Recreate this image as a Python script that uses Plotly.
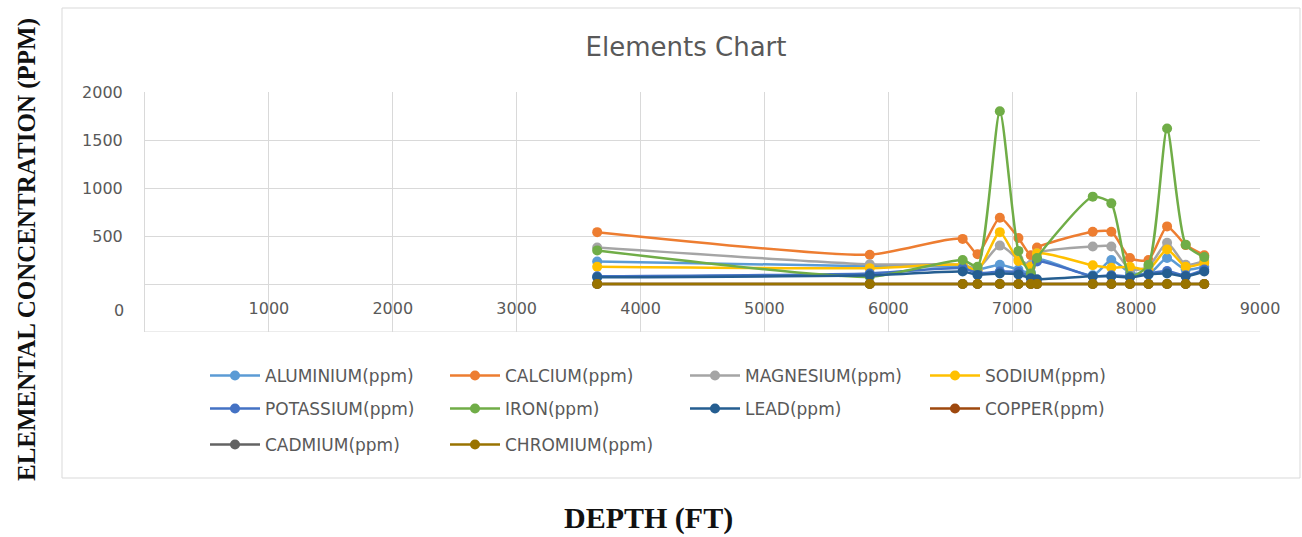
import plotly.graph_objects as go

# ---------------- data ----------------
depth = [3650, 5850, 6600, 6720, 6900, 7050, 7150, 7200, 7650, 7800, 7950, 8100, 8250, 8400, 8550]

aluminium = [235, 185, 180, 150, 200, 150, 120, 260, 90, 250, 120, 100, 270, 150, 180]
calcium   = [540, 305, 470, 310, 690, 480, 300, 380, 545, 545, 270, 250, 600, 405, 300]
magnesium = [380, 205, 200, 160, 400, 260, 200, 320, 390, 390, 150, 180, 430, 200, 240]
sodium    = [180, 165, 200, 140, 540, 240, 180, 320, 195, 170, 180, 150, 360, 180, 220]
potassium = [80, 110, 165, 115, 130, 125, 90, 235, 80, 90, 80, 110, 135, 90, 150]
iron      = [350, 75, 250, 180, 1800, 345, 110, 270, 910, 840, 75, 200, 1620, 410, 280]
lead      = [70, 90, 130, 95, 110, 100, 60, 50, 80, 80, 70, 100, 110, 80, 130]
copper    = [0, 0, 0, 0, 0, 0, 0, 0, 0, 0, 0, 0, 0, 0, 0]
cadmium   = [0, 0, 0, 0, 0, 0, 0, 0, 0, 0, 0, 0, 0, 0, 0]
chromium  = [0, 0, 0, 0, 0, 0, 0, 0, 0, 0, 0, 0, 0, 0, 0]

series_names = ["ALUMINIUM(ppm)", "CALCIUM(ppm)", "MAGNESIUM(ppm)", "SODIUM(ppm)",
                "POTASSIUM(ppm)", "IRON(ppm)", "LEAD(ppm)", "COPPER(ppm)",
                "CADMIUM(ppm)", "CHROMIUM(ppm)"]
series_values = [aluminium, calcium, magnesium, sodium, potassium, iron, lead,
                 copper, cadmium, chromium]
series_colors = ["#5B9BD5", "#ED7D31", "#A5A5A5", "#FFC000", "#4472C4", "#70AD47",
                 "#255E91", "#9E480E", "#636363", "#997300"]
legend_rows = ["legend", "legend", "legend", "legend",
               "legend2", "legend2", "legend2", "legend2",
               "legend3", "legend3"]

x_ticks = [1000, 2000, 3000, 4000, 5000, 6000, 7000, 8000, 9000]
y_ticks = [0, 500, 1000, 1500, 2000]
y_ticktext = ["", "500", "1000", "1500", "2000"]

# ---------------- layout geometry (pixels) ----------------
W, H = 1302, 537
ML, MR, MT, MB = 145, 42, 92, 205
PW = W - ML - MR
PH = H - MT - MB


def xp(px):
    return (px - ML) / PW


def yp(py):
    return (H - MB - py) / PH


GRID = "#D9D9D9"
TXT = "#595959"

fig = go.Figure()
for name, vals, col, lg in zip(series_names, series_values, series_colors, legend_rows):
    fig.add_trace(go.Scatter(
        x=depth, y=vals, name=name, mode="lines+markers",
        line=dict(color=col, width=2.5, shape="spline", smoothing=0.6),
        marker=dict(color=col, size=10),
        legend=lg,
    ))

legend_common = dict(
    orientation="h", xanchor="left", yanchor="middle",
    x=xp(205), entrywidth=175, entrywidthmode="pixels", itemwidth=50,
    font=dict(family="DejaVu Sans", size=17, color=TXT),
    bgcolor="rgba(0,0,0,0)", borderwidth=0, traceorder="normal",
)

fig.update_layout(
    width=W, height=H,
    margin=dict(l=ML, r=MR, t=MT, b=MB),
    paper_bgcolor="white", plot_bgcolor="white",
    title=dict(text="Elements Chart", x=686 / W, xref="container", xanchor="center",
               y=1 - 47 / H, yref="container", yanchor="middle",
               font=dict(family="DejaVu Sans", size=26, color=TXT)),
    xaxis=dict(range=[0, 9000], tickvals=x_ticks, showgrid=True, gridcolor=GRID,
               gridwidth=1, zeroline=False, showline=False, ticks="",
               anchor="free", position=yp(297),
               tickfont=dict(family="DejaVu Sans", size=16, color=TXT)),
    yaxis=dict(range=[-500, 2000], tickvals=y_ticks, ticktext=y_ticktext,
               showgrid=True, gridcolor=GRID, gridwidth=1, zeroline=False,
               showline=True, linecolor=GRID, linewidth=1, ticks="",
               ticklabelstandoff=18,
               tickfont=dict(family="DejaVu Sans", size=16, color=TXT)),
    legend=dict(legend_common, y=yp(376)),
    legend2=dict(legend_common, y=yp(409)),
    legend3=dict(legend_common, y=yp(445)),
    showlegend=True,
)

# chart border and bottom edge of the plot area
fig.add_shape(type="rect", xref="paper", yref="paper",
              x0=xp(62), x1=xp(1300), y0=yp(478), y1=yp(8),
              line=dict(color=GRID, width=1), fillcolor="rgba(0,0,0,0)", layer="below")
fig.add_shape(type="line", xref="paper", yref="y", x0=0, x1=1, y0=-500, y1=-500,
              line=dict(color=GRID, width=1), layer="below")

# misplaced "0" label of the value axis
fig.add_annotation(text="0", xref="paper", yref="y", x=xp(126), y=-280,
                   xanchor="right", yanchor="middle", showarrow=False,
                   font=dict(family="DejaVu Sans", size=16, color=TXT))

# axis titles
fig.add_annotation(text="ELEMENTAL CONCENTRATION (PPM)", xref="paper", yref="paper",
                   x=xp(27), y=yp(250), textangle=-90, showarrow=False,
                   xanchor="center", yanchor="middle",
                   font=dict(family="Liberation Serif", size=25, color="#111111",
                             weight="bold"))
fig.add_annotation(text="DEPTH (FT)", xref="paper", yref="paper",
                   x=xp(648), y=yp(518), showarrow=False,
                   xanchor="center", yanchor="middle",
                   font=dict(family="Liberation Serif", size=30, color="#111111",
                             weight="bold"))

fig.write_html("out.html")
